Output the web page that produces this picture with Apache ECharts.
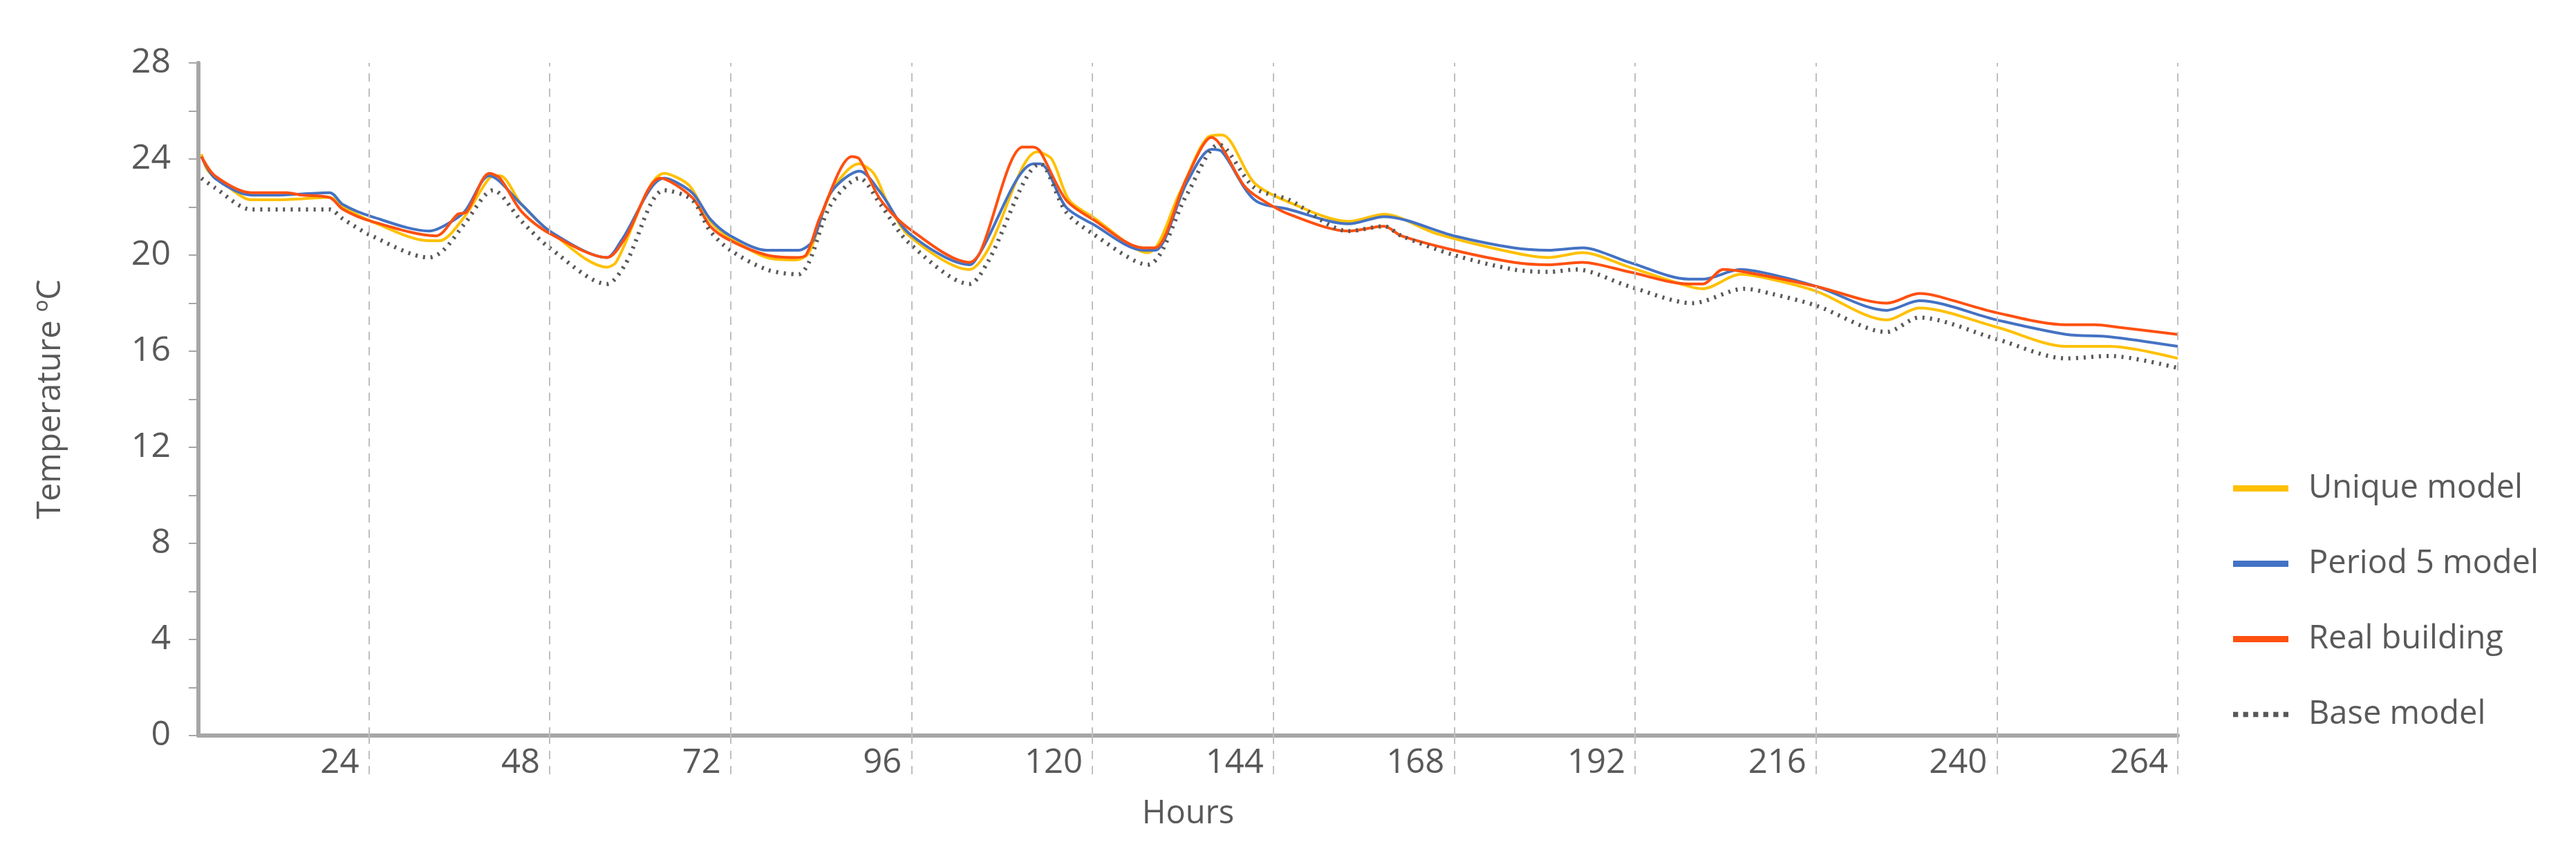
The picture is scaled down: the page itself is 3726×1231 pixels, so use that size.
<!DOCTYPE html>
<html>
<head>
<meta charset="utf-8">
<script src="https://cdn.jsdelivr.net/npm/echarts@6/dist/echarts.min.js"></script>
<style>html,body{margin:0;padding:0;background:#fff}#chart{width:3726px;height:1231px}</style>
</head>
<body>
<div id="chart"></div>
<script>
// [hour, temperature]
const uniqueModel = [[1.8,24.2],[2.7,23.5],[5.5,22.8],[8.4,22.3],[12.1,22.3],[18.8,22.4],[20.6,22.0],[24.4,21.4],[32,20.6],[33.4,20.6],[36.7,21.6],[40,23.2],[41.4,23.3],[44.3,22.1],[48,21.0],[55.6,19.5],[56.8,19.7],[63.2,23.4],[66.5,22.9],[69.3,21.4],[72,20.7],[76.8,19.9],[80.6,19.8],[82.4,20.1],[85.3,22.6],[89,23.8],[91,23.4],[92.8,22.2],[95.7,20.8],[103.7,19.4],[106.1,20.2],[112.7,24.3],[114.6,24.0],[116.9,22.3],[120,21.6],[127.3,20.1],[131.6,22.6],[135.3,24.9],[137.2,25.0],[141.5,23.0],[146.1,22.2],[154,21.4],[158.7,21.7],[165.6,20.9],[175.9,20.1],[180.5,19.9],[185,20.1],[191.2,19.5],[199.1,18.7],[201,18.6],[206,19.2],[210,19.0],[216,18.5],[225.4,17.3],[229.7,17.8],[240,17.0],[249.2,16.2],[255,16.2],[264,15.7]];
const period5Model = [[1.8,24.1],[3.6,23.2],[8.4,22.5],[12.1,22.5],[18.8,22.6],[20.6,22.1],[24.4,21.6],[32,21.0],[33.9,21.2],[36.7,21.8],[40,23.3],[44.3,22.1],[48,21.0],[55.6,19.9],[57.5,20.6],[63.2,23.2],[66.9,22.6],[69.3,21.5],[72,20.8],[76.8,20.2],[81,20.2],[82.9,20.6],[85.3,22.6],[89.1,23.5],[91.9,22.6],[95.7,20.9],[103.7,19.6],[105.1,20.1],[112.2,23.8],[113.1,23.8],[116.5,22.0],[120,21.3],[126.8,20.2],[128.3,20.2],[132.5,23.0],[135.8,24.4],[137.2,24.3],[141.5,22.3],[146.1,21.9],[154,21.3],[158.7,21.6],[168,20.8],[175.9,20.3],[180.5,20.2],[185,20.3],[191.2,19.7],[199.1,19.0],[201,19.0],[206,19.4],[210,19.2],[216,18.7],[225.4,17.7],[229.7,18.1],[240,17.3],[249.2,16.7],[255,16.6],[264,16.2]];
const realBuilding = [[1.8,24.1],[3.6,23.3],[8.4,22.6],[9.8,22.6],[13.1,22.6],[15,22.5],[18.8,22.4],[20.6,21.9],[24.4,21.4],[32.9,20.8],[35.8,21.7],[37,21.8],[40,23.4],[41.4,23.2],[44.3,21.8],[48,20.9],[55.6,19.9],[58,20.7],[62.7,23.2],[66.9,22.4],[69.3,21.2],[72,20.6],[76.8,20.0],[80.6,19.9],[82,20.0],[83.9,21.6],[88.1,24.1],[89.1,24.0],[91.9,22.3],[95.7,21.1],[103.7,19.7],[105.1,20.1],[110.8,24.5],[112.2,24.5],[113.1,24.3],[116.5,22.3],[120,21.5],[126.8,20.3],[128.3,20.3],[132.5,23.2],[135.8,24.9],[140.1,22.9],[142,22.4],[146.1,21.7],[154,21.0],[158.7,21.2],[161,20.8],[168,20.2],[175.9,19.7],[180.5,19.6],[185,19.7],[191.2,19.3],[199.1,18.8],[201,18.8],[203.7,19.4],[206.5,19.3],[216,18.7],[225.4,18.0],[229.7,18.4],[232,18.3],[240,17.6],[249.2,17.1],[253,17.1],[256,17.0],[264,16.7]];
const baseModel = [[1.8,23.2],[3.6,22.8],[8.4,21.9],[12.1,21.9],[18.8,21.9],[20.6,21.5],[24.4,20.8],[32,19.9],[33.9,20.2],[36.7,21.3],[40.5,22.7],[44.3,21.4],[48,20.3],[55.6,18.8],[58,19.6],[63.2,22.7],[66.9,22.3],[69.3,21.0],[72,20.2],[76.8,19.4],[81,19.2],[82.4,19.7],[85.3,22.1],[89.1,23.2],[91.9,22.1],[95.7,20.5],[103.7,18.8],[106.1,19.7],[113.1,23.8],[116.5,21.8],[120,20.9],[127.3,19.6],[132.5,22.5],[136.8,24.6],[141.5,22.8],[146.1,22.3],[154,21.0],[158.7,21.2],[161,20.8],[168,20.0],[175.9,19.4],[180.5,19.3],[184.2,19.4],[191.2,18.7],[199.6,18.0],[206.5,18.6],[210,18.4],[216,17.9],[225.4,16.8],[229.7,17.4],[240,16.5],[249.2,15.7],[255,15.8],[264,15.3]];
const seriesNames = ['Unique model', 'Period 5 model', 'Real building', 'Base model'];
const hourTicks = [24, 48, 72, 96, 120, 144, 168, 192, 216, 240, 264];

const txt = '#595959';
const font = 'Open Sans';
const dash = {color: '#BFBFBF', width: 2, type: [12, 10]};
const myChart = echarts.init(document.getElementById('chart'));
const line = (name, data, color, type, width) => ({
  name: name, type: 'line', data: data, symbol: 'none', smooth: 0.3,
  lineStyle: {color: color, width: width, type: type}, itemStyle: {color: color}
});
const dots = 'path://M0,0h2v2h-2z M4,0h2v2h-2z M8,0h2v2h-2z M12,0h2v2h-2z M16,0h2v2h-2z M20,0h2v2h-2z';

const series = [
  line(seriesNames[0], uniqueModel, '#FFC000', 'solid', 4),
  line(seriesNames[1], period5Model, '#4472C4', 'solid', 4),
  line(seriesNames[2], realBuilding, '#FF5010', 'solid', 4),
  line(seriesNames[3], baseModel, '#595959', [3, 8], 6)
];
// vertical dashed gridlines
series[0].markLine = {
  silent: true, symbol: 'none', label: {show: false},
  lineStyle: dash, data: hourTicks.map((h) => ({xAxis: h}))
};

const option = {
  backgroundColor: '#fff',
  animation: false,
  textStyle: {fontFamily: font},
  grid: {left: 287, right: 576, top: 91, bottom: 167},
  legend: {
    orient: 'vertical', left: 3225, top: 678, itemGap: 62,
    itemWidth: 80, itemHeight: 9,
    textStyle: {fontSize: 47, color: txt, fontFamily: font, padding: [0, 0, 0, 24]},
    data: [
      {name: seriesNames[0], icon: 'rect'},
      {name: seriesNames[1], icon: 'rect'},
      {name: seriesNames[2], icon: 'rect'},
      {name: seriesNames[3], icon: dots}
    ]
  },
  xAxis: {
    type: 'value', min: 1.4, max: 264,
    name: 'Hours', nameLocation: 'middle', nameGap: 90,
    nameTextStyle: {fontSize: 47, color: txt},
    axisLine: {lineStyle: {color: '#A6A6A6', width: 6}},
    axisTick: {show: true, length: 60, lineStyle: dash, customValues: hourTicks},
    axisLabel: {fontSize: 49, color: txt, align: 'right', padding: [0, 14, 0, 0], margin: 16,
      customValues: hourTicks},
    splitLine: {show: false}
  },
  yAxis: {
    type: 'value', min: 0, max: 28, interval: 4,
    name: 'Temperature ºC', nameLocation: 'middle', nameGap: 190, nameRotate: 90,
    nameTextStyle: {fontSize: 47, color: txt},
    axisLine: {show: true, lineStyle: {color: '#A6A6A6', width: 6}},
    axisTick: {show: true, length: 14, lineStyle: {color: '#A6A6A6', width: 2}},
    minorTick: {show: true, splitNumber: 2, length: 14, lineStyle: {color: '#A6A6A6', width: 2}},
    axisLabel: {fontSize: 50, color: txt, margin: 40},
    splitLine: {show: false}
  },
  series: series
};
myChart.setOption(option);
</script>
</body>
</html>
